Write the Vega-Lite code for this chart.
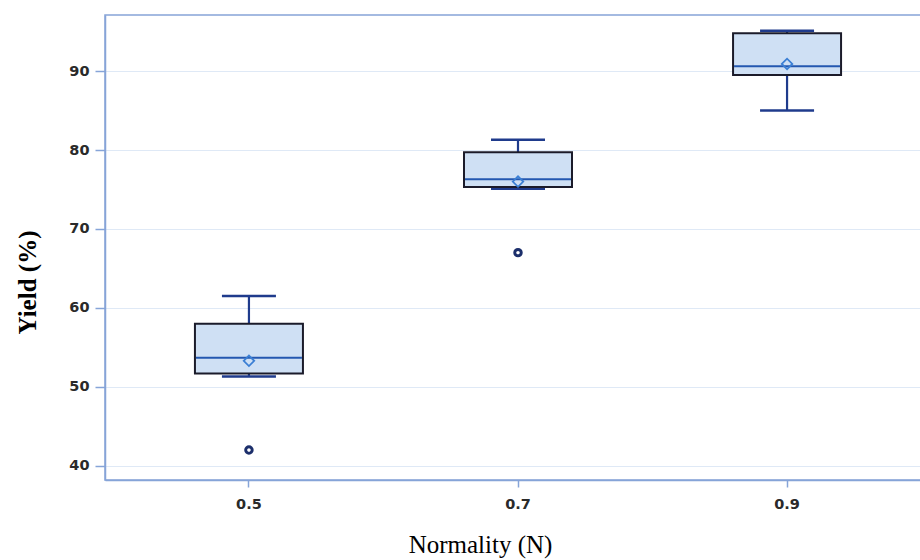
{
  "$schema": "https://vega.github.io/schema/vega-lite/v6.json",
  "width": 826,
  "height": 465,
  "autosize": {"type": "none"},
  "padding": {"left": 105, "top": 15, "right": 0, "bottom": 80},
  "background": "#ffffff",
  "config": {
    "view": {"stroke": "#86a4d8", "strokeWidth": 1.5},
    "axis": {
      "domainColor": "#86a4d8",
      "domainWidth": 1.5,
      "tickColor": "#86a4d8",
      "tickWidth": 1.5,
      "labelFont": "DejaVu Sans",
      "labelFontWeight": "bold",
      "labelFontSize": 14.5,
      "labelColor": "#2a2a2a",
      "titleFont": "Liberation Serif",
      "titleColor": "#000000",
      "gridColor": "#dfe9f6",
      "gridWidth": 1.2
    }
  },
  "datasets": {
    "stats": [
      {"N": "0.5", "lower": 51.3, "q1": 51.7, "median": 53.7, "q3": 58.0, "upper": 61.5, "mean": 53.3},
      {"N": "0.7", "lower": 75.1, "q1": 75.3, "median": 76.3, "q3": 79.7, "upper": 81.3, "mean": 76.0},
      {"N": "0.9", "lower": 85.0, "q1": 89.5, "median": 90.6, "q3": 94.8, "upper": 95.1, "mean": 90.9}
    ],
    "outliers": [
      {"N": "0.5", "yield": 42.0},
      {"N": "0.7", "yield": 67.0}
    ]
  },
  "data": {"name": "stats"},
  "encoding": {
    "x": {
      "field": "N",
      "type": "ordinal",
      "scale": {"type": "band", "paddingInner": 0, "paddingOuter": 0.035},
      "axis": {
        "title": "Normality (N)",
        "titleFontSize": 25,
        "titleFontWeight": "normal",
        "titleX": 375,
        "titleY": 72,
        "titleBaseline": "alphabetic",
        "labelAngle": 0,
        "tickSize": 7,
        "labelPadding": 10,
        "grid": false
      }
    }
  },
  "layer": [
    {
      "mark": {"type": "rule", "color": "#1f3b8c", "strokeWidth": 2.2, "opacity": 1},
      "encoding": {
        "y": {
          "field": "lower",
          "type": "quantitative",
          "scale": {"domain": [38.2, 97.1], "nice": false, "zero": false},
          "axis": {
            "title": "Yield (%)",
            "titleFontSize": 25,
            "titleFontWeight": "bold",
            "titleAngle": -90,
            "titleX": -78,
            "titleY": 267,
            "titleAlign": "center",
            "titleBaseline": "middle",
            "values": [40, 50, 60, 70, 80, 90],
            "tickSize": 10,
            "labelPadding": 6,
            "grid": true
          }
        },
        "y2": {"field": "upper"}
      }
    },
    {
      "mark": {"type": "tick", "color": "#1f3b8c", "thickness": 2.5, "size": 54, "opacity": 1},
      "encoding": {"y": {"field": "upper", "type": "quantitative"}}
    },
    {
      "mark": {"type": "tick", "color": "#1f3b8c", "thickness": 2.5, "size": 54, "opacity": 1},
      "encoding": {"y": {"field": "lower", "type": "quantitative"}}
    },
    {
      "mark": {"type": "bar", "size": 108, "fill": "#cfe0f4", "stroke": "#1b1b2a", "strokeWidth": 2, "opacity": 1},
      "encoding": {
        "y": {"field": "q1", "type": "quantitative"},
        "y2": {"field": "q3"}
      }
    },
    {
      "mark": {"type": "tick", "color": "#2458b0", "thickness": 2, "size": 106, "opacity": 1},
      "encoding": {"y": {"field": "median", "type": "quantitative"}}
    },
    {
      "mark": {"type": "point", "shape": "diamond", "filled": false, "size": 110, "stroke": "#3b7fd4", "strokeWidth": 1.8, "opacity": 1},
      "encoding": {"y": {"field": "mean", "type": "quantitative"}}
    },
    {
      "data": {"name": "outliers"},
      "mark": {"type": "point", "shape": "circle", "filled": false, "size": 42, "stroke": "#1c2f6b", "strokeWidth": 3, "opacity": 1},
      "encoding": {"y": {"field": "yield", "type": "quantitative"}}
    }
  ]
}
